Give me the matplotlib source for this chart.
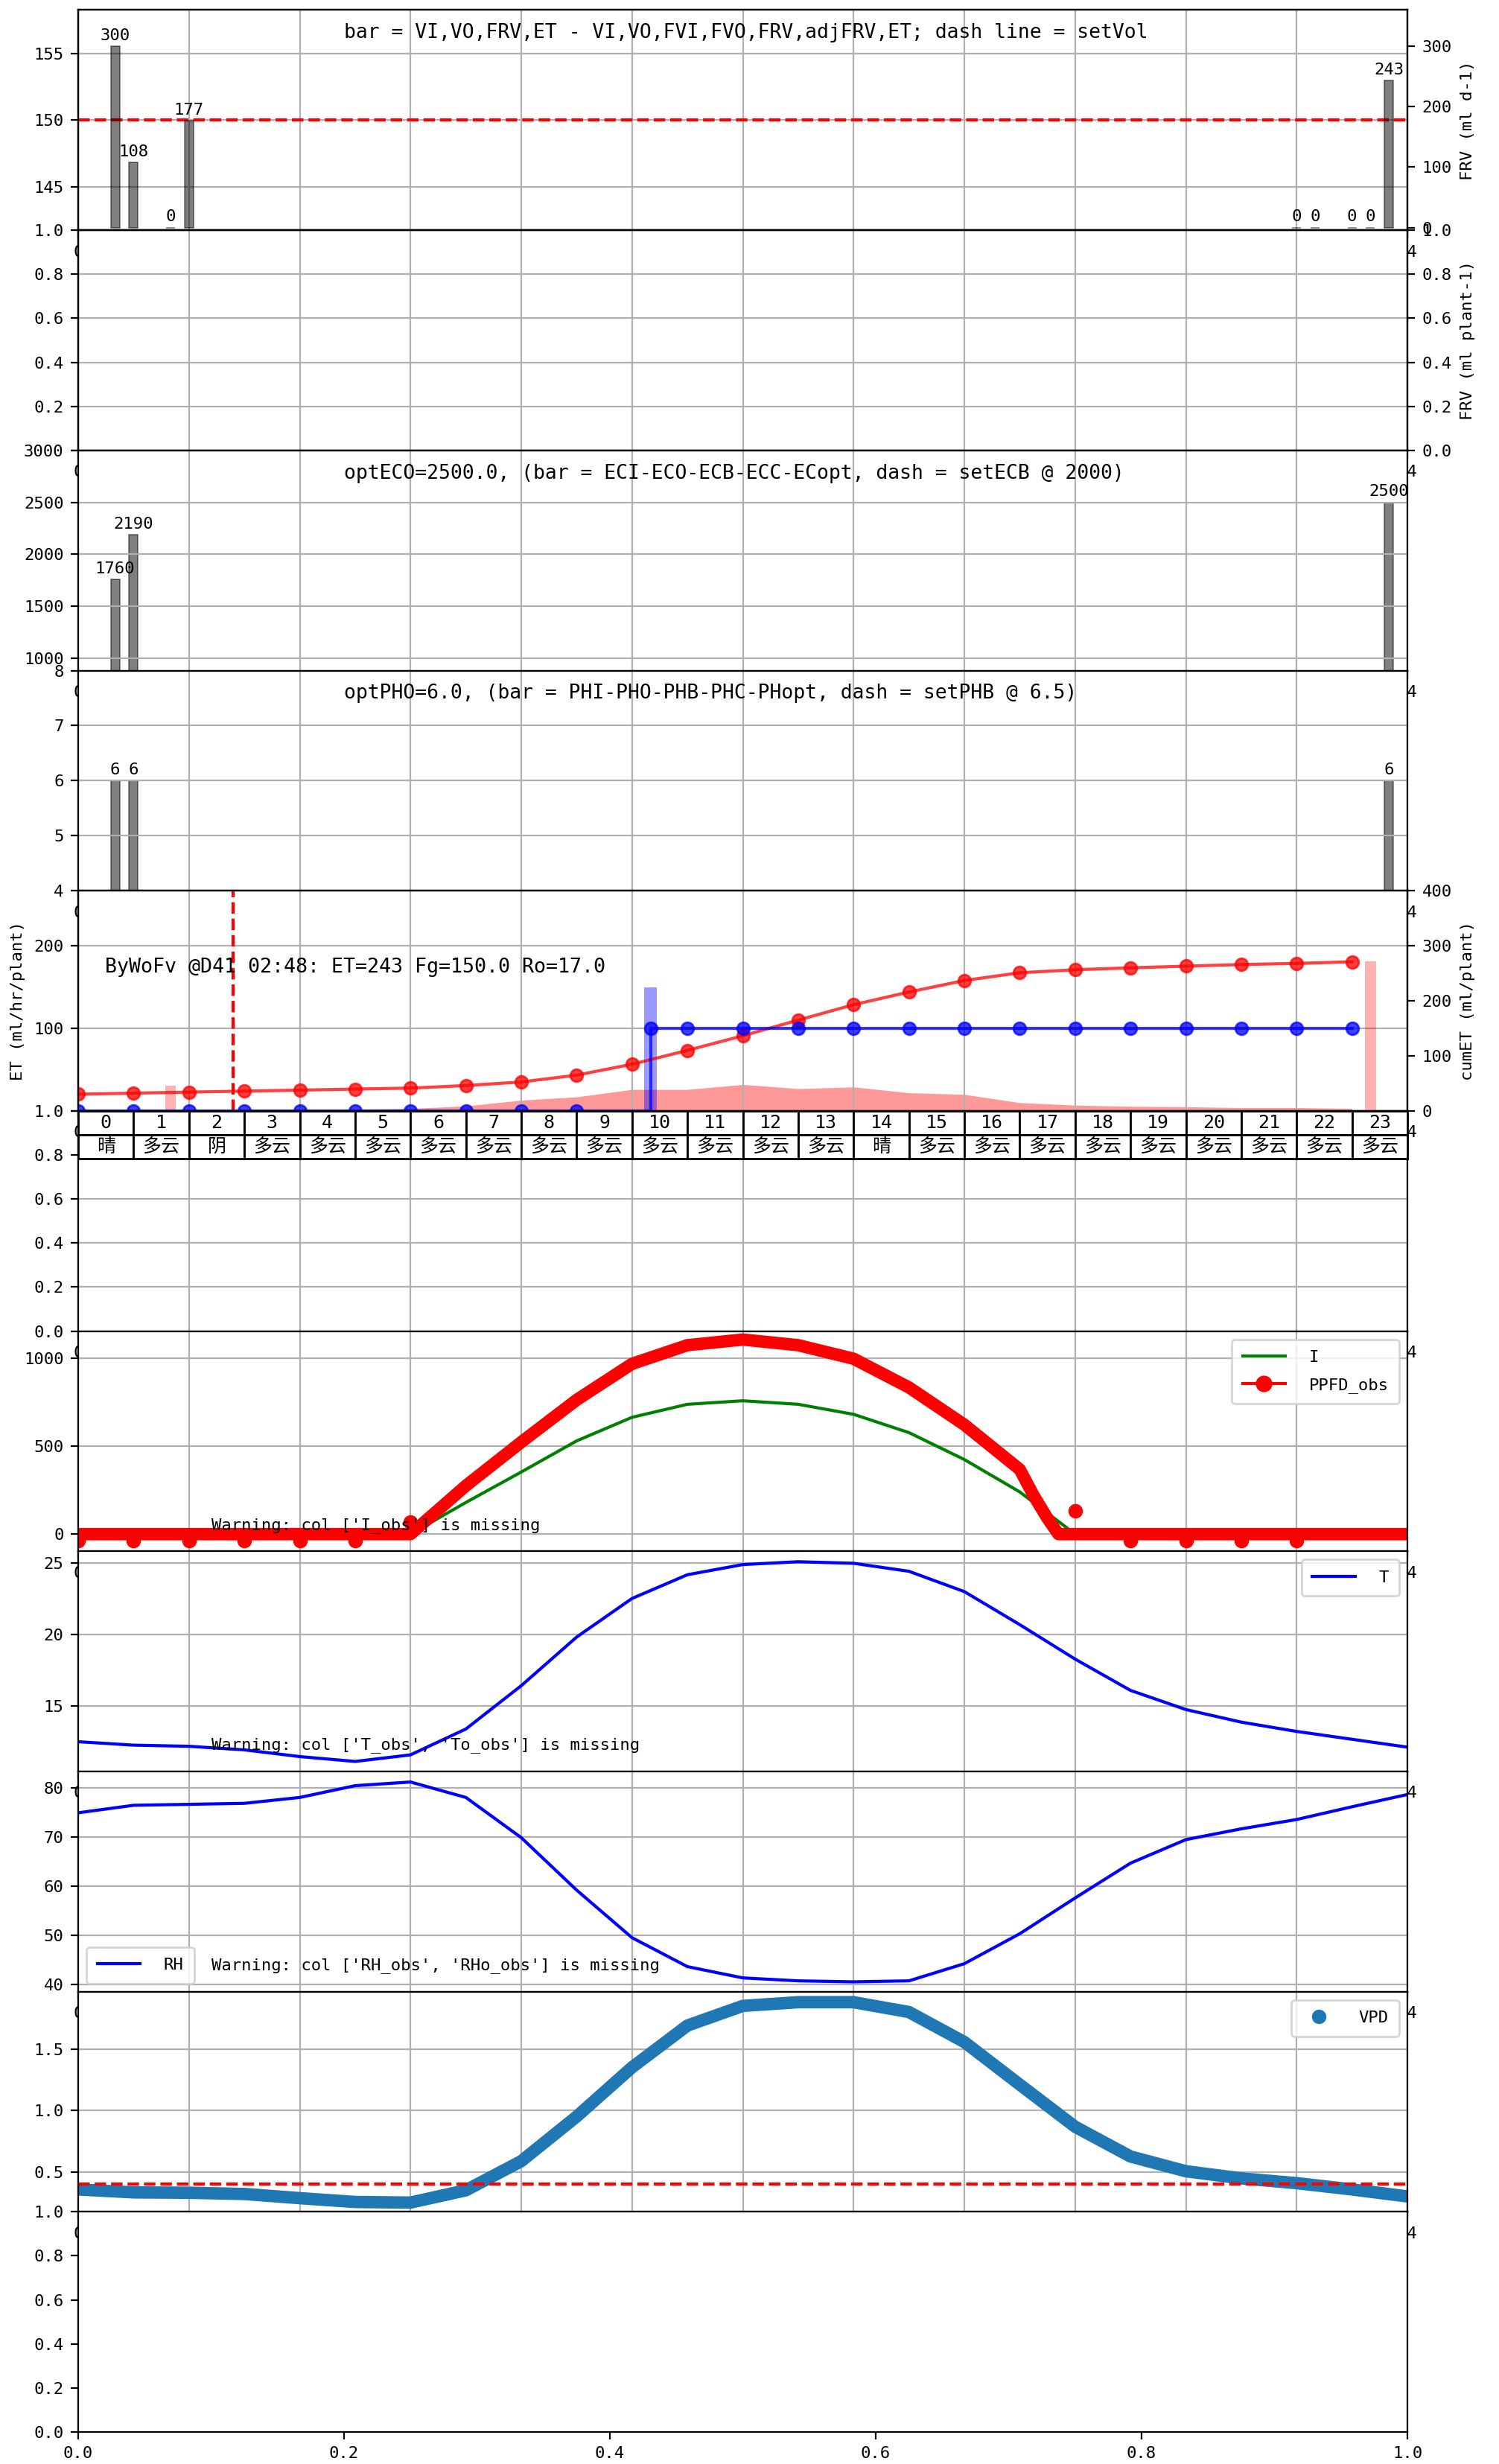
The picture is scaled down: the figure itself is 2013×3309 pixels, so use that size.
import matplotlib
matplotlib.use('Agg')
import matplotlib.pyplot as plt
from matplotlib.lines import Line2D

plt.rcParams['font.family'] = ['DejaVu Sans Mono', 'Noto Sans CJK SC']
plt.rcParams['font.size'] = 8
plt.rcParams['axes.unicode_minus'] = False

# ---- data ----
hours = list(range(24))
hours25 = list(range(25))

# irrigation / drain events (hour of day)
ev_hours = [0.667, 1.0, 1.667, 2.0, 22.0, 22.333, 23.0, 23.333, 23.667]
frv_vals = [300, 108, 0, 177, 0, 0, 0, 0, 243]
set_vol = 150

ec_hours = [0.667, 1.0, 23.667]
ec_vals = [1760, 2190, 2500]
ph_vals = [6, 6, 6]

title_frv = "bar = VI,VO,FRV,ET - VI,VO,FVI,FVO,FRV,adjFRV,ET; dash line = setVol"
title_ec = "optECO=2500.0, (bar = ECI-ECO-ECB-ECC-ECopt, dash = setECB @ 2000)"
title_ph = "optPHO=6.0, (bar = PHI-PHO-PHB-PHC-PHopt, dash = setPHB @ 6.5)"

# ET panel
et_hourly = [1, 1, 1, 1, 1.5, 2, 3, 6, 13, 17, 26, 26, 32, 27, 29, 22, 20, 10,
             7, 5.5, 5, 4, 4, 3]
cum_et = [30.4, 32.3, 34.2, 36, 37.8, 39.7, 41.5, 46.1, 52.6, 65, 84.8, 110,
          136.6, 165, 193, 216, 237, 251, 256.5, 260, 263, 266, 268, 271]
irr_x = [0, 1, 2, 3, 4, 5, 6, 7, 8, 9, 10.333, 11, 12, 13, 14, 15, 16, 17,
         18, 19, 20, 21, 22, 23]
irr_cum = [0] * 10 + [150] * 14
fg_hour = [10.333]
fg_val = [150]
et_bar_hours = [1.667, 23.333]
et_bar_vals = [46, 272]
now_hour = 2.8
info_txt = "ByWoFv @D41 02:48: ET=243 Fg=150.0 Ro=17.0"

weather = ['晴', '多云', '阴', '多云', '多云', '多云', '多云', '多云', '多云', '多云',
           '多云', '多云', '多云', '多云', '晴', '多云', '多云', '多云', '多云', '多云',
           '多云', '多云', '多云', '多云']

# light
light_model = [0, 0, 0, 0, 0, 0, 0, 180, 353, 530, 664, 738, 758, 738, 681,
               577, 424, 240, 0, 0, 0, 0, 0, 0, 0]
ppfd_h = [0, 1, 2, 3, 4, 5, 6, 7, 8, 9, 10, 11, 12, 13, 14, 15, 16, 17,
          17.25, 17.5, 17.7, 18, 19, 20, 21, 22, 23, 24]
ppfd_v = [0, 0, 0, 0, 0, 0, 0, 275, 523, 763, 968, 1074, 1106, 1074, 997,
          834, 622, 368, 220, 90, 0, 0, 0, 0, 0, 0, 0, 0]
ppfd_odd_h = [0, 1, 2, 3, 4, 5, 6, 18, 19, 20, 21, 22]
ppfd_odd_v = [-35, -35, -35, -35, -35, -35, 70, 131, -35, -35, -35, -35]

temp = [12.48, 12.24, 12.16, 11.91, 11.44, 11.1, 11.56, 13.37, 16.4, 19.8,
        22.5, 24.16, 24.87, 25.07, 24.96, 24.4, 22.98, 20.67, 18.26, 16.07,
        14.73, 13.85, 13.2, 12.65, 12.1]
rh = [74.97, 76.5, 76.7, 76.9, 78.1, 80.5, 81.25, 78.1, 69.9, 59.2, 49.5,
      43.6, 41.3, 40.7, 40.5, 40.7, 44.2, 50.3, 57.6, 64.7, 69.5, 71.7, 73.6,
      76.2, 78.7]
vpd = [0.357, 0.333, 0.33, 0.32, 0.286, 0.255, 0.25, 0.35, 0.587, 0.95, 1.35,
       1.69, 1.85, 1.88, 1.88, 1.80, 1.556, 1.21, 0.867, 0.625, 0.505, 0.447,
       0.408, 0.357, 0.30]
vpd_set = 0.4

# ---- figure ----
fig = plt.figure(figsize=(2013 / 200, 3309 / 200), dpi=200)
axs = fig.subplots(11, 1)
fig.subplots_adjust(left=105 / 2013, right=1890 / 2013, top=1 - 13.5 / 3309,
                    bottom=1 - 3266 / 3309, hspace=0)

# the hour labels end up under the next panel, only the two ends peek out
xt = list(range(0, 25, 2))
xt_lab = ['0'] + [''] * (len(xt) - 2) + ['24']
for ax in axs[:10]:
    ax.set_xlim(0, 24)
    ax.set_xticks(xt, xt_lab)
    ax.grid(True)

bar_kw = dict(width=0.16, color='black', alpha=0.5, edgecolor='black', linewidth=0.6)
leg_kw = dict(handlelength=2.6, handletextpad=1.4, borderpad=0.65, labelspacing=0.75)


def label_bars(ax, xs, vals):
    for x, v in zip(xs, vals):
        ax.annotate(f'{v}', (x, v), xytext=(0, 1.5), textcoords='offset points',
                    ha='center', va='bottom')


# 1: FRV
ax = axs[0]
ax.axhline(set_vol, color='red', ls='--', lw=1.5)
ax.set_ylim(141.75, 158.25)
ax.set_yticks([145, 150, 155])
ax.text(0.2, 0.872, title_frv, transform=ax.transAxes, fontsize=9.5)
axb = ax.twinx()
axb.bar(ev_hours, frv_vals, **bar_kw)
label_bars(axb, ev_hours, frv_vals)
axb.set_ylim(-4.5, 360)
axb.set_yticks([0, 100, 200, 300])
axb.set_ylabel('FRV (ml d-1)')

# 2: empty FRV per plant
ax = axs[1]
ax.set_yticks([0, 0.2, 0.4, 0.6, 0.8, 1.0], ['', '0.2', '0.4', '0.6', '0.8', '1.0'])
axb = ax.twinx()
axb.set_ylabel('FRV (ml plant-1)')

# 3: EC
ax = axs[2]
ax.bar(ec_hours, ec_vals, **bar_kw)
label_bars(ax, ec_hours, ec_vals)
ax.set_ylim(880, 3000)
ax.set_yticks([1000, 1500, 2000, 2500, 3000])
ax.text(0.2, 0.872, title_ec, transform=ax.transAxes, fontsize=9.5)

# 4: pH
ax = axs[3]
ax.bar(ec_hours, ph_vals, **bar_kw)
label_bars(ax, ec_hours, ph_vals)
ax.set_ylim(4, 8)
ax.set_yticks([4, 5, 6, 7, 8])
ax.text(0.2, 0.872, title_ph, transform=ax.transAxes, fontsize=9.5)

# 5: ET
ax = axs[4]
ax.fill_between(hours, et_hourly, color='red', alpha=0.4, lw=0)
ax.bar(fg_hour, fg_val, width=0.24, color='blue', alpha=0.4)
ax.axvline(now_hour, color='red', ls='--', lw=1.5)
ax.set_ylim(0, 400 / 1.5)
ax.set_yticks([0, 100, 200], ['', '100', '200'])
ax.set_ylabel('ET (ml/hr/plant)')
ax.text(0.02, 0.63, info_txt, transform=ax.transAxes, fontsize=9.6)
axb = ax.twinx()
axb.bar(et_bar_hours, et_bar_vals, width=0.2, color='red', alpha=0.3)
axb.plot(hours, cum_et, 'o-', color='red', alpha=0.75)
axb.plot(irr_x, irr_cum, 'o-', color='blue', alpha=0.75, drawstyle='steps-post')
axb.set_ylim(0, 400)
axb.set_yticks([0, 100, 200, 300, 400])
axb.set_ylabel('cumET (ml/plant)')

# 6: weather table
ax = axs[5]
tbl = ax.table(cellText=[[str(h) for h in hours], weather], cellLoc='center',
               bbox=[0, 1 - 0.2165, 1, 0.2165])
tbl.auto_set_font_size(False)
tbl.set_fontsize(9)
tbl.set_zorder(3)

# 7: light
ax = axs[6]
ax.plot(hours25, light_model, color='green', lw=1.5)
ax.plot(ppfd_h, ppfd_v, '-', color='red', lw=6, solid_capstyle='round',
        solid_joinstyle='round')
ax.plot(ppfd_odd_h, ppfd_odd_v, 'o', color='red', ms=6)
ax.set_ylim(-97.5, 1154)
ax.set_yticks([0, 500, 1000])
ax.text(0.1, 0.1, "Warning: col ['I_obs'] is missing", transform=ax.transAxes)
ax.legend([Line2D([], [], color='green', lw=1.5),
           Line2D([], [], color='red', lw=1.5, marker='o', ms=7)],
          ['I', 'PPFD_obs'], loc='upper right', **leg_kw)

# 8: temperature
ax = axs[7]
ax.plot(hours25, temp, color='blue', label='T')
ax.set_ylim(10.4, 25.8)
ax.set_yticks([15, 20, 25])
ax.text(0.1, 0.1, "Warning: col ['T_obs', 'To_obs'] is missing", transform=ax.transAxes)
ax.legend(loc='upper right', **leg_kw)

# 9: RH
ax = axs[8]
ax.plot(hours25, rh, color='blue', label='RH')
ax.set_ylim(38.5, 83.4)
ax.set_yticks([40, 50, 60, 70, 80])
ax.text(0.1, 0.1, "Warning: col ['RH_obs', 'RHo_obs'] is missing", transform=ax.transAxes)
ax.legend(loc='lower left', **leg_kw)

# 10: VPD
ax = axs[9]
ax.plot(hours25, vpd, '-', color='tab:blue', lw=6, solid_capstyle='round',
        solid_joinstyle='round')
ax.axhline(vpd_set, color='red', ls='--', lw=1.5)
ax.set_ylim(0.175, 1.966)
ax.set_yticks([0.5, 1.0, 1.5])
ax.legend([Line2D([], [], color='tab:blue', ls='none', marker='o', ms=6)], ['VPD'],
          loc='upper right', handletextpad=1.4, borderpad=0.65)

# 11: empty
axs[10].set_xlim(0, 1)
axs[10].set_ylim(0, 1)

fig.savefig('out.png', dpi=200)
